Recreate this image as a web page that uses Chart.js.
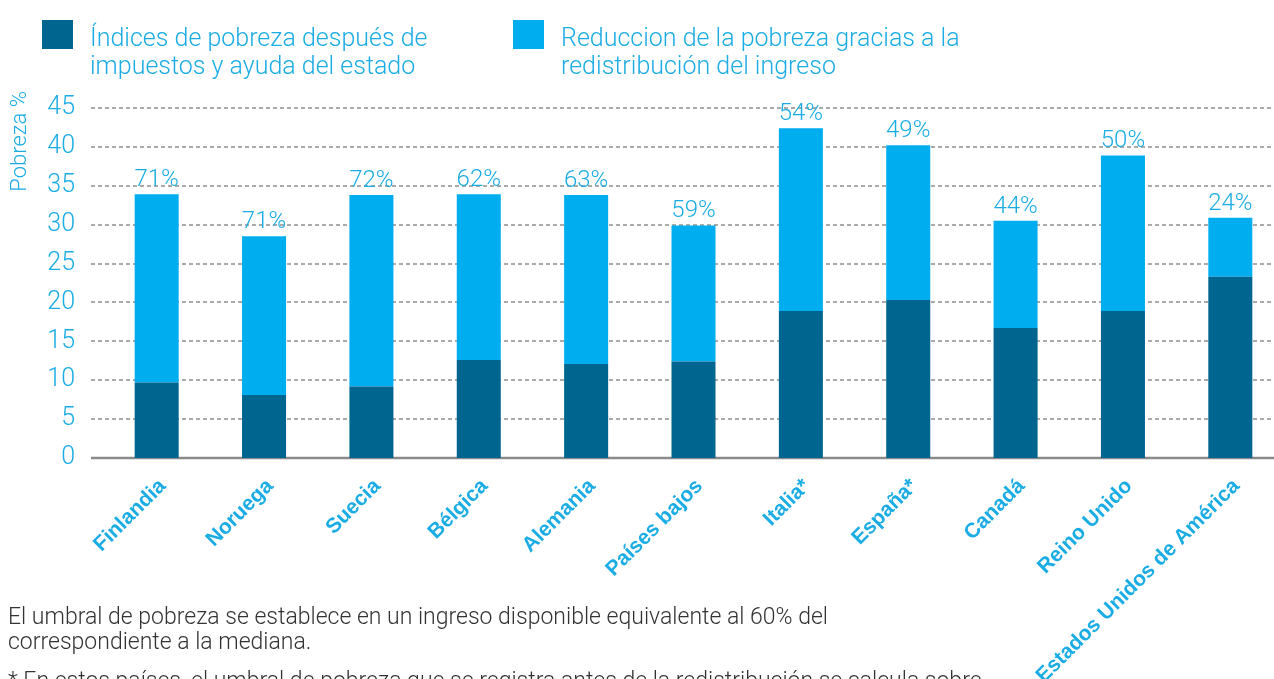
<!DOCTYPE html>
<html lang="es">
<head>
<meta charset="utf-8">
<script src="https://cdn.jsdelivr.net/npm/chart.js@4.4.1/dist/chart.umd.min.js"></script>
<style>
  body { margin: 0; width: 1274px; height: 679px; overflow: hidden; background: #fff; font-family: Roboto, "Liberation Sans", sans-serif; }
  #wrap { position: absolute; left: 0; top: 0; width: 1290px; height: 679px; }
  .leg { position: absolute; top: 21px; font-weight: 300; font-size: 25px; line-height: 28px; color: #1aace4; }
  .leg .sq { position: absolute; left: 0; top: -1px; width: 31px; height: 29px; }
  .leg .txt { position: absolute; left: 48px; top: 3px; white-space: nowrap; }
  .nota { position: absolute; left: 8px; font-weight: 300; font-size: 23px; line-height: 25px; color: #333; white-space: nowrap; }
</style>
</head>
<body>
<div id="wrap"><canvas id="grafico"></canvas></div>
<div id="leyenda"></div>
<div class="nota" style="top:604px">El umbral de pobreza se establece en un ingreso disponible equivalente al 60% del<br>correspondiente a la mediana.</div>
<div class="nota" style="top:668px">* En estos países, el umbral de pobreza que se registra antes de la redistribución se calcula sobre</div>
<script>
const paises = ['Finlandia', 'Noruega', 'Suecia', 'Bélgica', 'Alemania', 'Países bajos', 'Italia*', 'España*', 'Canadá', 'Reino Unido', 'Estados Unidos de América'];
// pobreza despues de impuestos (parte oscura)
const despues = [9.7, 8.1, 9.2, 12.6, 12.1, 12.4, 18.9, 20.3, 16.7, 18.9, 23.3];
// reduccion gracias a la redistribucion (parte clara)
const reduccion = [24.2, 20.4, 24.6, 21.3, 21.7, 17.5, 23.5, 19.9, 13.8, 20.0, 7.6];
const porcentajes = ['71%', '71%', '72%', '62%', '63%', '59%', '54%', '49%', '44%', '50%', '24%'];
const series = [
    ['Índices de pobreza después de', 'impuestos y ayuda del estado'],
    ['Reduccion de la pobreza gracias a la', 'redistribución del ingreso']
];
const ticksY = [0, 5, 10, 15, 20, 25, 30, 35, 40, 45];
const tituloY = 'Pobreza %';

const azulOscuro = '#00668f';
const azulClaro = '#00aeef';
const textoAzul = '#1aace4';

// leyenda en html (dos lineas por serie)
const leyenda = document.getElementById('leyenda');
[[42, azulOscuro], [513, azulClaro]].forEach(([x, color], i) => {
    const d = document.createElement('div');
    d.className = 'leg';
    d.style.left = x + 'px';
    d.innerHTML = `<div class="sq" style="background:${color}"></div><div class="txt">${series[i].join('<br>')}</div>`;
    leyenda.appendChild(d);
});

const ejeX = 91;

const extras = {
    id: 'extras',
    beforeDatasetsDraw(chart) {
        const ctx = chart.ctx;
        const y = chart.scales.y;
        ctx.save();
        ctx.strokeStyle = '#8f8f8f';
        ctx.lineWidth = 1.5;
        ctx.setLineDash([4, 3]);
        ticksY.forEach(v => {
            if (v === 0) return;
            const py = Math.round(y.getPixelForValue(v));
            ctx.beginPath();
            ctx.moveTo(ejeX, py);
            ctx.lineTo(chart.width, py);
            ctx.stroke();
        });
        ctx.setLineDash([]);
        ctx.lineWidth = 2.5;
        ctx.strokeStyle = '#8a8a8a';
        const p0 = y.getPixelForValue(0);
        ctx.beginPath();
        ctx.moveTo(ejeX, p0);
        ctx.lineTo(chart.width, p0);
        ctx.stroke();

        // titulo del eje y, pegado arriba
        ctx.fillStyle = textoAzul;
        ctx.font = '300 22px Roboto';
        ctx.textAlign = 'right';
        ctx.textBaseline = 'middle';
        ctx.translate(20, chart.chartArea.top - 17);
        ctx.rotate(-Math.PI / 2);
        ctx.fillText(tituloY, 0, 0);
        ctx.restore();
    },
    afterDatasetsDraw(chart) {
        const ctx = chart.ctx;
        const meta = chart.getDatasetMeta(1);
        ctx.save();
        ctx.fillStyle = textoAzul;
        ctx.font = '300 24px Roboto';
        ctx.textAlign = 'center';
        ctx.textBaseline = 'alphabetic';
        meta.data.forEach((bar, i) => {
            ctx.fillText(porcentajes[i], bar.x, bar.y - 8);
        });
        ctx.restore();
    }
};

new Chart(document.getElementById('grafico'), {
    type: 'bar',
    data: {
        labels: paises,
        datasets: [
            { label: series[0].join(' '), data: despues, backgroundColor: azulOscuro, barPercentage: 0.41, categoryPercentage: 1 },
            { label: series[1].join(' '), data: reduccion, backgroundColor: azulClaro, barPercentage: 0.41, categoryPercentage: 1 }
        ]
    },
    options: {
        responsive: true,
        maintainAspectRatio: false,
        animation: false,
        layout: { padding: { top: 108, right: 6, left: 0, bottom: 0 } },
        plugins: { legend: { display: false }, tooltip: { enabled: false } },
        scales: {
            x: {
                stacked: true,
                grid: { display: false, drawTicks: false },
                border: { display: false },
                afterFit: s => { s.height = 221; },
                ticks: {
                    color: textoAzul,
                    font: { family: 'Liberation Sans', weight: 'bold', size: 21 },
                    minRotation: 45,
                    maxRotation: 45,
                    autoSkip: false,
                    padding: 16,
                    labelOffset: 6
                }
            },
            y: {
                stacked: true,
                min: 0,
                max: 45,
                afterFit: s => { s.width = 103; },
                grid: { display: false, drawTicks: false },
                border: { display: false },
                ticks: {
                    stepSize: 5,
                    padding: 28,
                    color: textoAzul,
                    font: { family: 'Roboto', weight: '300', size: 25 }
                }
            }
        }
    },
    plugins: [extras]
});
</script>
</body>
</html>
